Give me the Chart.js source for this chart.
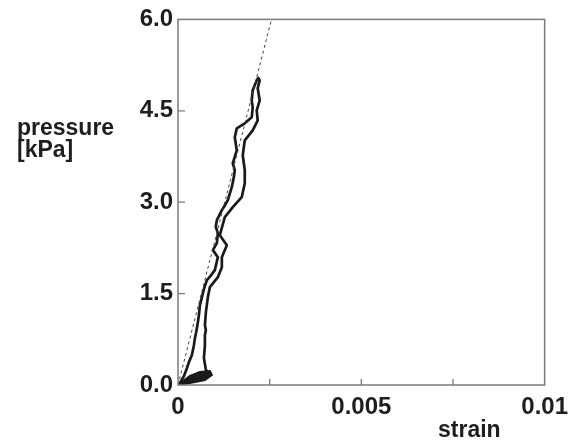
<!DOCTYPE html>
<html>
<head>
<meta charset="utf-8">
<script src="https://cdn.jsdelivr.net/npm/chart.js@4/dist/chart.umd.min.js"></script>
<style>
  html, body { margin: 0; padding: 0; background: #fff; }
  #wrap { width: 576px; height: 441px; position: relative; }
</style>
</head>
<body>
<div id="wrap"><canvas id="c" width="576" height="441"></canvas></div>
<script>
// Measured hysteresis loop (strain, pressure in kPa), loading then unloading
const loopStrain = [
  0.000005, 0.000054, 0.000163, 0.000245, 0.000300, 0.000380, 0.000430, 0.000462, 0.000490, 0.000516, 0.000545, 0.000571, 0.000598,
  0.000640, 0.000679, 0.000720, 0.000788, 0.000900, 0.001005, 0.001087, 0.000951, 0.001060, 0.001087, 0.001030,
  0.001060, 0.001196, 0.001280, 0.001359, 0.001467, 0.001520, 0.001549, 0.001495, 0.001603, 0.001549, 0.001603,
  0.001821, 0.002011, 0.002038, 0.002011, 0.002038, 0.002147, 0.002190,
  0.002228, 0.002174, 0.002228, 0.002147, 0.002174, 0.002038, 0.001821, 0.001766, 0.001821,
  0.001821, 0.001739, 0.001495, 0.001277, 0.001141, 0.001332, 0.001196, 0.001196, 0.001087,
  0.000870, 0.000815, 0.000761, 0.000734, 0.000760, 0.000734, 0.000734, 0.000707, 0.000761,
  0.000870, 0.000600, 0.000800, 0.000450, 0.000700, 0.000326, 0.000450, 0.000150, 0.000054
];
const loopPressure = [
  0.000, 0.033, 0.148, 0.279, 0.380, 0.492, 0.640, 0.770, 0.850, 0.934, 1.040, 1.148, 1.311,
  1.410, 1.508, 1.600, 1.721, 1.800, 1.885, 2.098, 2.213, 2.328, 2.492, 2.600,
  2.705, 2.869, 2.950, 3.033, 3.246, 3.400, 3.525, 3.639, 3.852, 4.066, 4.213,
  4.295, 4.393, 4.557, 4.672, 4.836, 5.000, 5.040,
  5.000, 4.869, 4.672, 4.508, 4.344, 4.180, 4.016, 3.770, 3.525,
  3.311, 3.082, 2.918, 2.754, 2.459, 2.295, 2.098, 1.934, 1.770,
  1.607, 1.443, 1.197, 0.984, 0.900, 0.820, 0.656, 0.443, 0.246,
  0.180, 0.140, 0.190, 0.090, 0.150, 0.049, 0.100, 0.020, 0.016
];
// Dark patch at the start of loading (strain, pressure)
const blobStrain = [0, 0.000326, 0.000598, 0.000870, 0.000924, 0.000734, 0.000326, 0];
const blobPressure = [0, 0.148, 0.213, 0.230, 0.164, 0.082, 0.033, 0];
// Linear fit (dashed)
const fitStrain = [0, 0.00255];
const fitPressure = [0, 6.0];
// Axis ticks
const xTickLabels = {"0": "0", "0.005": "0.005", "0.01": "0.01"};
const yTicks = [0, 1.5, 3.0, 4.5, 6.0];

const loopData = loopStrain.map((s, i) => ({x: s, y: loopPressure[i]}));
const blobData = blobStrain.map((s, i) => ({x: s, y: blobPressure[i]}));
const fitData = fitStrain.map((s, i) => ({x: s, y: fitPressure[i]}));

const FONT = "'Liberation Sans', Arial, Helvetica, sans-serif";
const TXT = '#1e1e1e';

const framePlugin = {
  id: 'frame',
  afterDatasetsDraw(chart) {
    const {ctx, chartArea: a, scales} = chart;
    ctx.save();
    ctx.strokeStyle = '#7a7a7a';
    ctx.lineWidth = 1.5;
    ctx.strokeRect(a.left, a.top, a.right - a.left, a.bottom - a.top);
    // inward ticks
    ctx.lineWidth = 1.3;
    ctx.beginPath();
    scales.x.ticks.forEach(t => {
      const px = scales.x.getPixelForValue(t.value);
      if (px > a.left + 2 && px < a.right - 2) {
        ctx.moveTo(px, a.bottom); ctx.lineTo(px, a.bottom - 6);
      }
    });
    scales.y.ticks.forEach(t => {
      const py = scales.y.getPixelForValue(t.value);
      if (py > a.top + 2 && py < a.bottom - 2) {
        ctx.moveTo(a.left, py); ctx.lineTo(a.left + 7, py);
      }
    });
    ctx.stroke();
    // axis titles
    ctx.fillStyle = TXT;
    ctx.font = "bold 23px " + FONT;
    ctx.textAlign = 'left';
    ctx.textBaseline = 'alphabetic';
    ctx.fillText('pressure', 17, 135);
    ctx.fillText('[kPa]', 17, 157);
    ctx.fillText('strain', 438, 437);
    ctx.restore();
  }
};

new Chart(document.getElementById('c'), {
  type: 'scatter',
  data: {
    datasets: [
      {
        data: fitData, showLine: true, borderColor: '#444', borderWidth: 1,
        borderDash: [3, 3], pointRadius: 0, tension: 0
      },
      {
        data: blobData, showLine: true, borderColor: '#1a1a1a', backgroundColor: '#1a1a1a',
        borderWidth: 2, fill: 'shape', pointRadius: 0, tension: 0
      },
      {
        data: loopData, showLine: true, borderColor: '#1a1a1a', borderWidth: 2.7,
        borderJoinStyle: 'round', pointRadius: 0, tension: 0
      }
    ]
  },
  options: {
    responsive: false,
    animation: false,
    events: [],
    layout: { padding: { left: 0, right: 30, top: 19, bottom: 0 } },
    plugins: { legend: { display: false }, tooltip: { enabled: false }, title: { display: false }, filler: { propagate: false } },
    scales: {
      x: {
        type: 'linear', min: 0, max: 0.01,
        afterFit(s) { s.height = 56; },
        afterBuildTicks(s) { s.ticks = [0, 0.0025, 0.005, 0.0075, 0.01].map(v => ({value: v})); },
        grid: { display: false, drawTicks: false },
        border: { display: false },
        ticks: {
          padding: 8, maxRotation: 0, autoSkip: false, color: TXT,
          font: { family: FONT, size: 24, weight: 'bold' },
          callback: (v) => xTickLabels[String(v)] ?? ''
        }
      },
      y: {
        type: 'linear', min: 0, max: 6,
        afterFit(s) { s.width = 178; },
        afterBuildTicks(s) { s.ticks = yTicks.map(v => ({value: v})); },
        grid: { display: false, drawTicks: false },
        border: { display: false },
        ticks: {
          padding: 5, color: TXT,
          font: { family: FONT, size: 24, weight: 'bold' },
          callback: (v) => Number(v).toFixed(1)
        }
      }
    }
  },
  plugins: [framePlugin]
});
</script>
</body>
</html>
